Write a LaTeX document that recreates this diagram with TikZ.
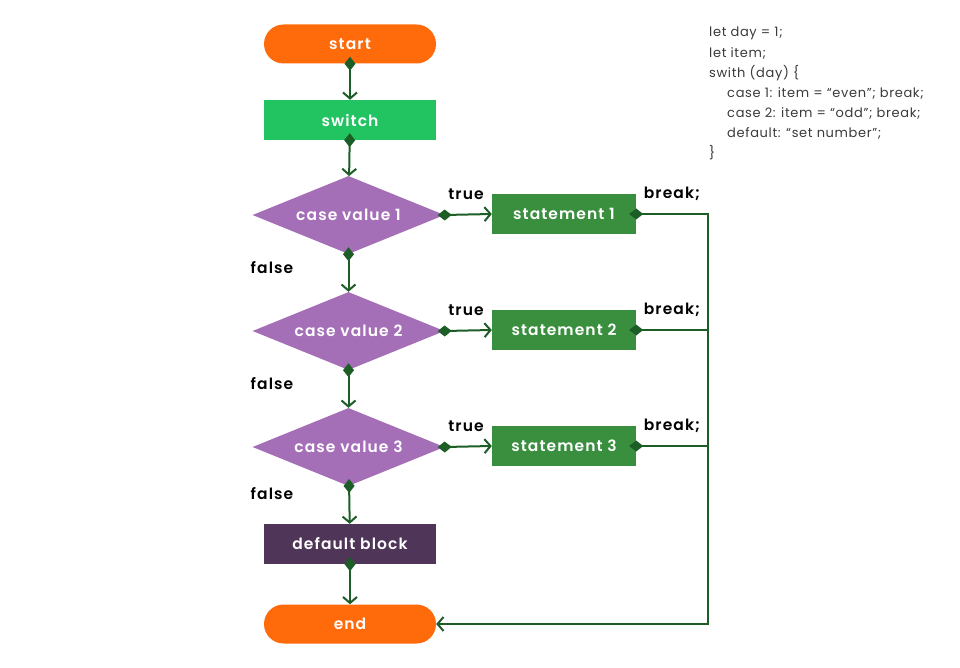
\documentclass[tikz,border=0pt]{standalone}
\usepackage{fontspec}
\setmainfont{Poppins}[BoldFont={Poppins SemiBold}]
\newfontfamily\nodefont{Poppins SemiBold}[LetterSpace=7]
\newfontfamily\codefont{Poppins}[LetterSpace=5]
\usepackage{tikz}
\usetikzlibrary{positioning,shapes.geometric,arrows.meta}

\definecolor{term_orange}{HTML}{FF6B0B}
\definecolor{switch_green}{HTML}{22C462}
\definecolor{case_purple}{HTML}{A56FB8}
\definecolor{stmt_green}{HTML}{3A8F3F}
\definecolor{default_plum}{HTML}{4F3558}
\definecolor{line_green}{HTML}{1C5E26}
\definecolor{code_gray}{HTML}{3A3A3A}

\tikzset{
  terminal/.style={rectangle, rounded corners=19.5pt, fill=term_orange, text=white,
    minimum width=172pt, minimum height=39pt, font=\fontsize{15.5}{17}\nodefont},
  block/.style={rectangle, text=white, minimum height=40pt,
    font=\fontsize{15.5}{17}\nodefont},
  casebox/.style={diamond, aspect=2.45, inner sep=0pt, fill=case_purple, text=white,
    minimum width=192pt, minimum height=78pt, font=\fontsize{15.5}{17}\nodefont},
  branch/.style={font=\fontsize{15.5}{17}\nodefont, text=black},
  flow/.style={draw=line_green, line width=2pt,
    {Diamond[length=14pt,width=11pt]}-{Straight Barb[length=6pt,width=14pt]},
    shorten <=-7pt},
  flowend/.style={draw=line_green, line width=2pt,
    {Diamond[length=14pt,width=11pt]}-, shorten <=-7pt},
  codeline/.style={anchor=west, text=code_gray, inner sep=0pt,
    font=\fontsize{13}{15}\codefont}
}

\begin{document}
\begin{tikzpicture}[x=1pt,y=-1pt]
\useasboundingbox (0,0) rectangle (960,668);

% main column
\node[terminal] (start_node) at (350,44) {start};
\node[block, fill=switch_green, minimum width=172pt] (switch_node) at (350,120) {switch};
\node[casebox] (case_1) at (348.5,215) {case value 1};
\node[casebox] (case_2) at (348.5,331) {case value 2};
\node[casebox] (case_3) at (348.5,447) {case value 3};
\node[block, fill=default_plum, minimum width=172pt] (default_node) at (350,544) {default block};
\node[terminal] (end_node) at (350,624) {end};

% statements
\node[block, fill=stmt_green, minimum width=144pt] (stmt_1) at (564,214) {statement 1};
\node[block, fill=stmt_green, minimum width=144pt] (stmt_2) at (564,330) {statement 2};
\node[block, fill=stmt_green, minimum width=144pt] (stmt_3) at (564,446) {statement 3};

% labels
\node[branch] (true_1) at (466,194) {true};
\node[branch] (true_2) at (466,310) {true};
\node[branch] (true_3) at (466,426) {true};
\node[branch] (break_1) at (672,194) {break;};
\node[branch] (break_2) at (672,310) {break;};
\node[branch] (break_3) at (672,426) {break;};
\node[branch] (false_1) at (272,268) {false};
\node[branch] (false_2) at (272,384) {false};
\node[branch] (false_3) at (272,494) {false};

\coordinate (join_1) at (708,214);
\coordinate (join_2) at (708,330);
\coordinate (join_3) at (708,446);

% connectors
\draw[flow] (start_node) -- (switch_node);
\draw[flow] (switch_node) -- (case_1);
\draw[flow] (case_1) -- (case_2);
\draw[flow] (case_2) -- (case_3);
\draw[flow] (case_3) -- (default_node);
\draw[flow] (default_node) -- (end_node);
\draw[flow] (case_1.east) -- (stmt_1.west);
\draw[flow] (case_2.east) -- (stmt_2.west);
\draw[flow] (case_3.east) -- (stmt_3.west);
\draw[flow] (stmt_1.east) -- (join_1) |- (end_node.east);
\draw[flowend] (stmt_2.east) -- (join_2);
\draw[flowend] (stmt_3.east) -- (join_3);

% code listing
\node[codeline] (code_1) at (709,33) {let day = 1;};
\node[codeline] (code_2) at (709,53) {let item;};
\node[codeline] (code_3) at (709,73) {swith (day) \{};
\node[codeline] (code_4) at (727,93) {case 1: item = “even”; break;};
\node[codeline] (code_5) at (727,113) {case 2: item = “odd”; break;};
\node[codeline] (code_6) at (727,133) {default: “set number”;};
\node[codeline] (code_7) at (709,153) {\}};
\end{tikzpicture}
\end{document}
